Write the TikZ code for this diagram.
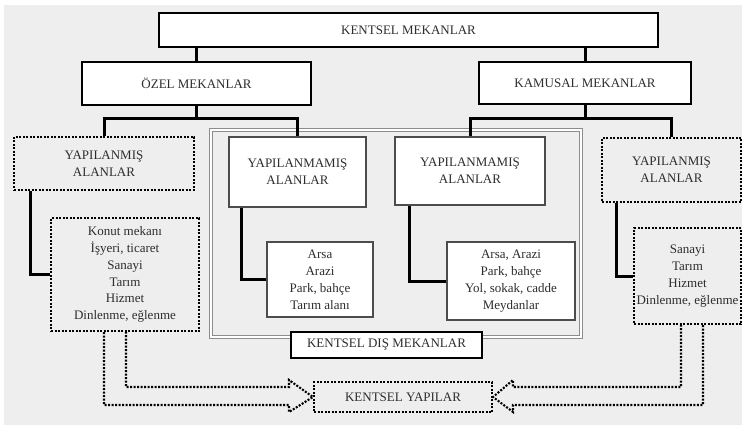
\documentclass[tikz,border=0pt]{standalone}
\usepackage{fontspec}
\setmainfont{Liberation Serif}
\definecolor{bgc}{RGB}{238,238,238}
\definecolor{txtc}{RGB}{45,45,45}
\definecolor{framec}{RGB}{140,140,140}
\tikzset{
  txt/.style={font=\fontsize{13}{17}\selectfont, text=txtc, align=center, inner sep=0pt},
  mainbox/.style={txt, draw=black, line width=2.6pt, fill=white},
  subbox/.style={txt, draw=black!70, line width=1.8pt, fill=white},
  dotbox/.style={txt, draw=black, line width=2.1pt, dash pattern=on 2pt off 1.5pt},
  framebox/.style={draw=framec, line width=1.3pt, double=white, double distance=1.6pt},
  conn/.style={line width=3pt, draw=black},
  dotarrow/.style={draw=black, line width=2.1pt, dash pattern=on 2pt off 1.5pt, line join=miter},
}
\begin{document}
\begin{tikzpicture}[x=1pt,y=-1pt]
\useasboundingbox (0,0) rectangle (742,425);
\fill[bgc] (4,5) rectangle (742,425);

% frame of urban outdoor spaces
\node[framebox, minimum width=370, minimum height=207] (frame) at (396,233.5) {};

% main boxes
\node[mainbox, minimum width=499, minimum height=34] (top) at (408.5,30) {KENTSEL MEKANLAR};
\node[mainbox, minimum width=229, minimum height=43] (ozel) at (196.5,83.5) {ÖZEL MEKANLAR};
\node[mainbox, minimum width=212, minimum height=42] (kamusal) at (585,83) {KAMUSAL MEKANLAR};

% left dotted
\node[dotbox, minimum width=180, minimum height=53] (yapL) at (104,163.5) {YAPILANMIŞ\\ALANLAR};
\node[dotbox, minimum width=148, minimum height=113, font=\fontsize{13}{16.8}\selectfont] (listL) at (125,274.5)
  {Konut mekanı\\İşyeri, ticaret\\Sanayi\\Tarım\\Hizmet\\Dinlenme, eğlenme};

% middle
\node[subbox, minimum width=137, minimum height=70] (yamL) at (297.5,172) {YAPILANMAMIŞ\\ALANLAR};
\node[subbox, minimum width=106, minimum height=75] (listML) at (320,279.5)
  {Arsa\\Arazi\\Park, bahçe\\Tarım alanı};
\node[subbox, minimum width=150, minimum height=68] (yamR) at (470,171) {YAPILANMAMIŞ\\ALANLAR};
\node[subbox, minimum width=128, minimum height=78] (listMR) at (511,281)
  {Arsa, Arazi\\Park, bahçe\\Yol, sokak, cadde\\Meydanlar};

% right dotted
\node[dotbox, minimum width=139, minimum height=64] (yapR) at (671.5,170) {YAPILANMIŞ\\ALANLAR};
\node[dotbox, minimum width=107, minimum height=96, font=\fontsize{13}{16.8}\selectfont] (listR) at (687.5,276)
  {Sanayi\\Tarım\\Hizmet\\Dinlenme, eğlenme};

% bottom
\node[mainbox, minimum width=191, minimum height=26] (dis) at (386.5,345) {KENTSEL DIŞ MEKANLAR};
\node[dotbox, minimum width=178, minimum height=30] (yapilar) at (403,397) {KENTSEL YAPILAR};

% connectors
\draw[conn] (ozel.north) -- (ozel.north |- top.south);
\draw[conn] (kamusal.north) -- (kamusal.north |- top.south);
\draw[conn] (ozel.south) -- ++(0,12) coordinate (bo);
\draw[conn] (yapL.north) |- (bo) -| (yamL.north);
\draw[conn] (kamusal.south) -- ++(0,13) coordinate (bk);
\draw[conn] (yamR.north) |- (bk) -| (yapR.north);
\draw[conn] ([xshift=18pt]yapL.south west) |- (listL.west);
\draw[conn] ([xshift=13pt]yamL.south west) |- (listML.west);
\draw[conn] ([xshift=15pt]yamR.south west) |- (listMR.west);
\draw[conn] ([xshift=16pt]yapR.south west) |- (listR.west);

% block arrows
\draw[dotarrow] ([xshift=-21pt]listL.south) |- (289,405) -- (289,412) -- (yapilar.west)
  -- (289,380) -- (289,387) -| ([xshift=1pt]listL.south);
\draw[dotarrow] ([xshift=15.5pt]listR.south) |- (513,405) -- (513,412) -- (yapilar.east)
  -- (513,380) -- (513,387) -| ([xshift=-6.5pt]listR.south);
\end{tikzpicture}
\end{document}
